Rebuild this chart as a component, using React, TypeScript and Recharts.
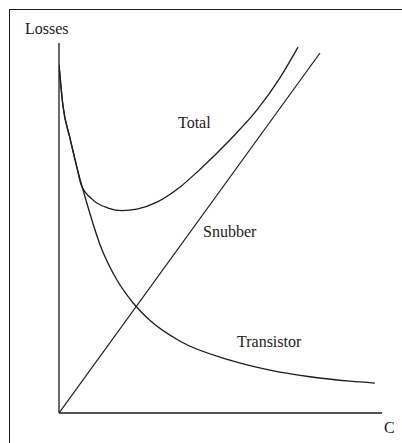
import React from 'react';
import { LineChart, Line, XAxis, YAxis, ReferenceLine } from 'recharts';

// capacitance C (0-100) vs losses (0-100)
const transistorC = [0, 1.2, 3.4, 5.6, 8.7, 12.7, 17.9, 22.9, 28.2, 37.5, 52.9, 65.3, 77.7, 90.1, 97.8];
const transistorLoss = [94.1, 83.2, 74.3, 66.2, 56.5, 45.5, 36.0, 29.8, 25.0, 19.4, 14.3, 11.6, 9.8, 8.6, 8.1];

const totalC = [0, 1.2, 3.4, 5.6, 6.8, 10.2, 15.2, 19.5, 24.1, 30.3, 37.5, 43.7, 52.9, 61.3, 68.4, 74.0];
const totalLoss = [94.1, 83.2, 74.3, 66.2, 61.8, 57.8, 55.4, 54.7, 55.1, 57.0, 61.1, 65.9, 73.8, 81.9, 90.6, 98.9];

const snubberC = [0, 80.8];
const snubberLoss = [0, 97.3];

const labels = ['Total', 'Snubber', 'Transistor'];

const toRows = (xs: number[], ys: number[]) => xs.map((c, i) => ({ c, loss: ys[i] }));

const ink = '#1c1c1c';
const font = '"Liberation Serif", "Times New Roman", "DejaVu Serif", serif';

const textStyle = (left: number, top: number): React.CSSProperties => ({
  position: 'absolute',
  left,
  top,
  fontFamily: font,
  fontSize: 16,
  lineHeight: '16px',
  color: ink,
  whiteSpace: 'nowrap'
});

export default function App() {
  return (
    <div style={{ position: 'absolute', left: 0, top: 0, width: 402, height: 443, background: '#fff', overflow: 'hidden' }}>
      {/* page frame, cut off at the right and bottom */}
      <div
        style={{
          position: 'absolute',
          left: 9,
          top: 9,
          width: 420,
          height: 460,
          borderLeft: `1.5px solid ${ink}`,
          borderTop: `1.5px solid ${ink}`
        }}
      />
      <LineChart
        width={402}
        height={443}
        margin={{ top: 43, right: 20, bottom: 30, left: 59 }}
        style={{ position: 'absolute', left: 0, top: 0 }}
      >
        <XAxis type="number" dataKey="c" domain={[0, 100]} hide allowDataOverflow />
        <YAxis type="number" dataKey="loss" domain={[0, 100]} hide allowDataOverflow />
        <ReferenceLine x={0} stroke={ink} strokeWidth={1.3} />
        <ReferenceLine y={0} stroke={ink} strokeWidth={1.3} />
        <Line
          data={toRows(snubberC, snubberLoss)}
          dataKey="loss"
          type="linear"
          stroke={ink}
          strokeWidth={1.2}
          dot={false}
          isAnimationActive={false}
        />
        <Line
          data={toRows(transistorC, transistorLoss)}
          dataKey="loss"
          type="monotone"
          stroke={ink}
          strokeWidth={1.3}
          dot={false}
          isAnimationActive={false}
        />
        <Line
          data={toRows(totalC, totalLoss)}
          dataKey="loss"
          type="monotone"
          stroke={ink}
          strokeWidth={1.3}
          dot={false}
          isAnimationActive={false}
        />
      </LineChart>
      <div style={textStyle(25, 21)}>Losses</div>
      <div style={textStyle(384, 420)}>C</div>
      <div style={textStyle(178, 115)}>{labels[0]}</div>
      <div style={textStyle(203, 224)}>{labels[1]}</div>
      <div style={textStyle(237, 334)}>{labels[2]}</div>
    </div>
  );
}
